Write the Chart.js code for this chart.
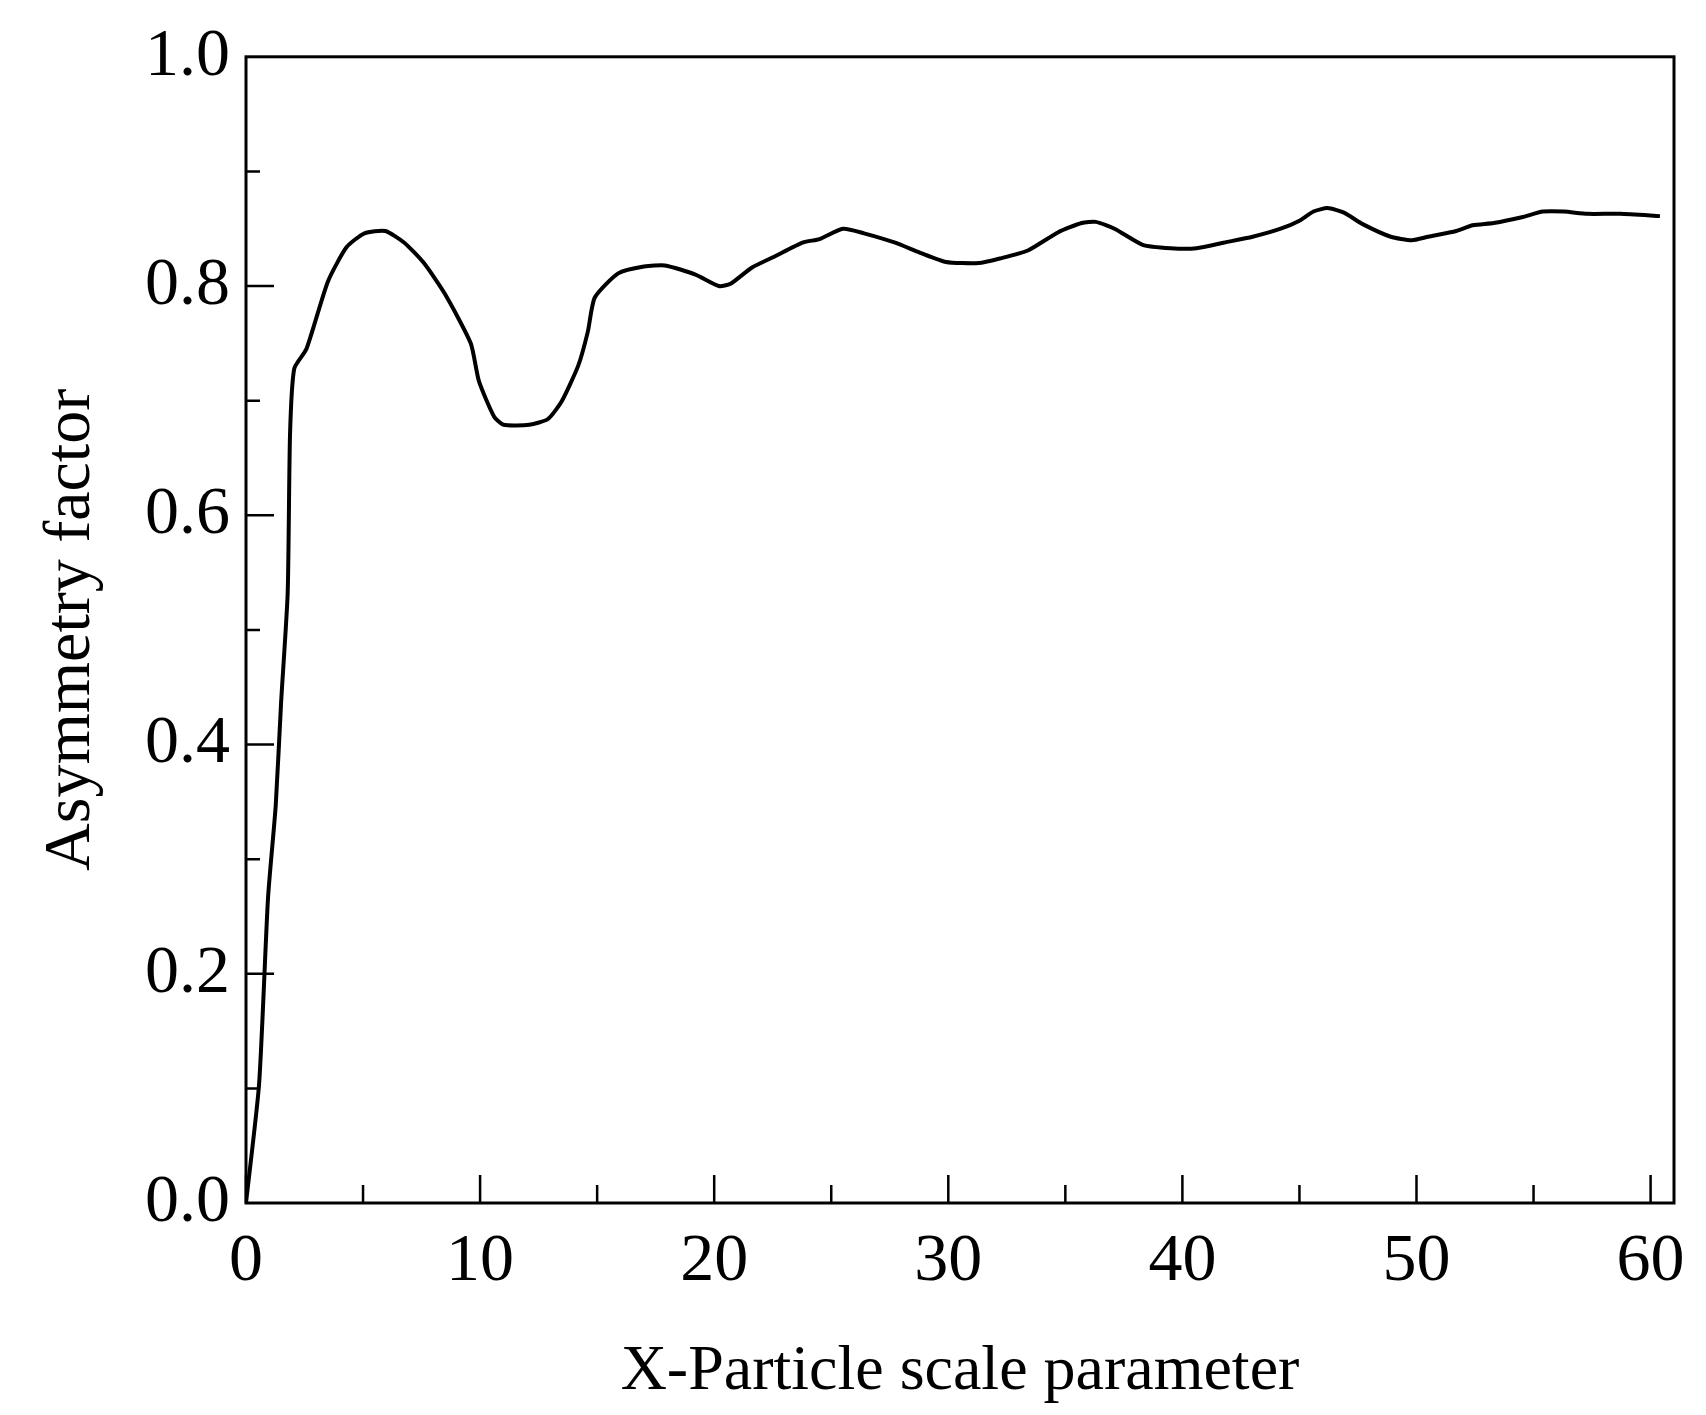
<!DOCTYPE html>
<html>
<head>
<meta charset="utf-8">
<script src="https://cdn.jsdelivr.net/npm/chart.js@4"></script>
<style>
  html, body { margin: 0; background: #fff; }
  #wrap { width: 1706px; height: 1415px; }
</style>
</head>
<body>
<div id="wrap"><canvas id="c"></canvas></div>
<script>
// Asymmetry factor vs particle scale parameter
const xs = [0, 0.56, 0.94, 1.27, 1.5, 1.78, 1.88, 2.06, 2.58, 3.5, 4.3, 5.06, 5.95, 6.75, 7.6, 8.5,
  9.6, 9.95, 10.6, 11.0, 12.1, 12.9, 13.5, 14.2, 14.6, 14.9, 15.9, 17.0, 17.9, 19.2, 20.2, 20.7,
  21.6, 22.6, 23.8, 24.5, 25.5, 26.4, 27.7, 28.8, 29.9, 31.3, 32.2, 33.4, 34.7, 35.7, 36.3, 37.1,
  38.3, 39.5, 40.6, 41.8, 43.0, 44.2, 45.0, 45.6, 46.2, 46.9, 47.7, 48.9, 49.8, 50.5, 51.7, 52.4,
  53.3, 54.5, 55.4, 56.3, 57.3, 58.7, 60.4];
const gs = [0, 0.104, 0.266, 0.347, 0.437, 0.532, 0.67, 0.728, 0.745, 0.804, 0.834, 0.846, 0.848,
  0.838, 0.82, 0.793, 0.75, 0.717, 0.686, 0.679, 0.679, 0.684, 0.70, 0.731, 0.76, 0.79, 0.811,
  0.817, 0.818, 0.81, 0.80, 0.802, 0.816, 0.826, 0.838, 0.841, 0.85, 0.846, 0.838, 0.829, 0.821,
  0.82, 0.824, 0.831, 0.847, 0.855, 0.856, 0.85, 0.836, 0.833, 0.833, 0.838, 0.843, 0.85, 0.857,
  0.865, 0.868, 0.864, 0.854, 0.843, 0.84, 0.843, 0.848, 0.853, 0.855, 0.86, 0.865, 0.865, 0.863,
  0.863, 0.861];
const xTicks = [0, 10, 20, 30, 40, 50, 60];
const yTicks = [0, 0.2, 0.4, 0.6, 0.8, 1.0];

const FONT = "'Liberation Serif', 'DejaVu Serif', serif";

// frame + inward ticks (major long, minor short)
const frame = {
  id: "frame",
  afterDraw(chart) {
    const { ctx, chartArea: a, scales: { x, y } } = chart;
    ctx.save();
    ctx.strokeStyle = "#000";
    ctx.lineWidth = 3;
    ctx.strokeRect(a.left, a.top, a.right - a.left, a.bottom - a.top);
    ctx.lineWidth = 2.5;
    ctx.beginPath();
    for (let v = 0; v <= 60; v += 5) {
      const px = x.getPixelForValue(v), len = v % 10 === 0 ? 28 : 18;
      ctx.moveTo(px, a.bottom); ctx.lineTo(px, a.bottom - len);
    }
    for (let i = 1; i < 10; i++) {
      const py = y.getPixelForValue(i / 10), len = i % 2 === 0 ? 28 : 14;
      ctx.moveTo(a.left, py); ctx.lineTo(a.left + len, py);
    }
    ctx.stroke();
    ctx.restore();
  },
};

new Chart(document.getElementById("c"), {
  type: "line",
  data: {
    datasets: [{
      data: xs.map((v, i) => ({ x: v, y: gs[i] })),
      borderColor: "#000", borderWidth: 4, pointRadius: 0, tension: 0.2, fill: false,
    }],
  },
  options: {
    responsive: true, maintainAspectRatio: false, animation: false,
    layout: { padding: { top: 51, right: 32, left: 28, bottom: 0 } },
    plugins: { legend: { display: false }, tooltip: { enabled: false } },
    scales: {
      x: {
        type: "linear", min: 0, max: 61,
        afterBuildTicks: (s) => { s.ticks = xTicks.map((v) => ({ value: v })); },
        afterFit: (s) => { s.height = 212; },
        grid: { display: false, drawTicks: false },
        border: { display: false },
        ticks: { color: "#000", font: { family: FONT, size: 68 }, padding: 18, maxRotation: 0 },
        title: { display: true, text: "X-Particle scale parameter", color: "#000",
          font: { family: FONT, size: 64 }, padding: { top: 22 } },
      },
      y: {
        min: 0, max: 1,
        afterBuildTicks: (s) => { s.ticks = yTicks.map((v) => ({ value: v })); },
        afterFit: (s) => { s.width = 218; },
        grid: { display: false, drawTicks: false },
        border: { display: false },
        ticks: { color: "#000", font: { family: FONT, size: 68 }, padding: 16,
          callback: (v) => v.toFixed(1) },
        title: { display: true, text: "Asymmetry factor", color: "#000",
          font: { family: FONT, size: 66 } },
      },
    },
  },
  plugins: [frame],
});
</script>
</body>
</html>
